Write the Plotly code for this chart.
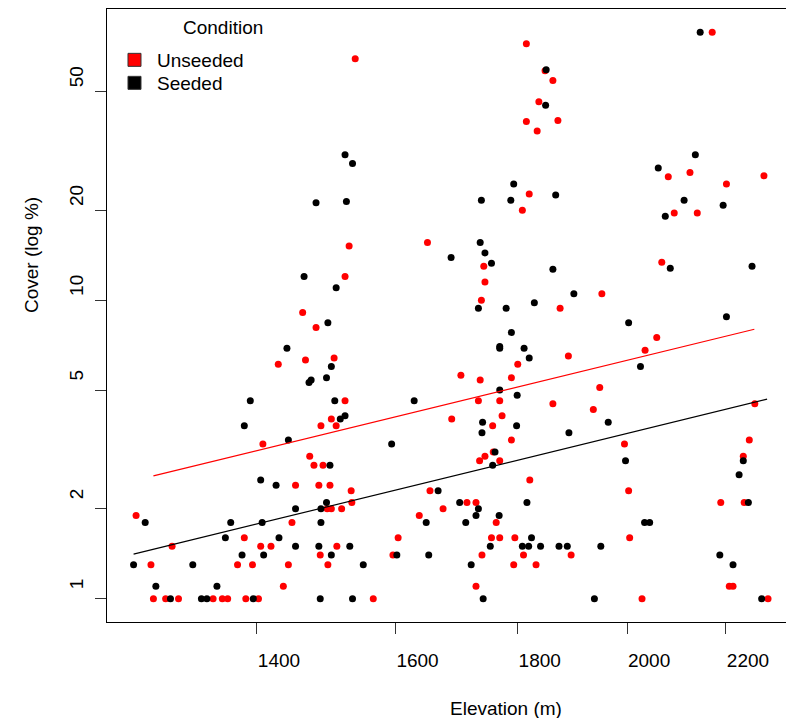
import plotly.graph_objects as go

# ---- data ----
unseeded_elev = [1246, 1290, 1264, 1267, 1282, 1298, 1342, 1354, 1361, 1385, 1402, 1374, 1394, 1443,
                 1499, 1436, 1383, 1405, 1419, 1512, 1488, 1448, 1498, 1504, 1519, 1408, 1473, 1479,
                 1492, 1453, 1486, 1502, 1533, 1534, 1489, 1511, 1504, 1524, 1429, 1467, 1508, 1482,
                 1463, 1524, 1530, 1539, 1566, 1604, 1596, 1637, 1654, 1675, 1689, 1704, 1650, 1714,
                 1729, 1729, 1739, 1755, 1769, 1763, 1793, 1832, 1795, 1810, 1895, 1735, 1744, 1758,
                 1769, 1821, 1789, 1757, 1773, 1733, 1769, 1862, 1736, 1789, 1800, 1890, 1875, 1738,
                 1744, 1742, 1808, 1820, 1815, 1834, 1837, 1871, 1862, 1848, 1815, 1952, 1948, 1936,
                 1995, 2003, 2005, 2029, 2035, 2058, 2068, 2081, 2093, 2125, 2140, 2171, 2201, 2282,
                 2189, 2239, 2237, 2250, 2262, 2207, 2215, 2291]
unseeded_cover = [1.9, 1.5, 1.3, 1.0, 1.0, 1.0, 1.0, 1.0, 1.0, 1.0, 1.0, 1.3, 1.3, 1.3,
                  1.3, 1.1, 1.6, 1.5, 1.5, 1.5, 1.4, 1.8, 2.0, 2.0, 2.0, 3.3, 3.0, 2.8,
                  2.8, 2.4, 2.4, 2.4, 2.3, 2.1, 3.8, 3.8, 4.0, 4.6, 6.1, 6.3, 6.4, 8.1,
                  9.1, 12.0, 15.2, 64.4, 1.0, 1.6, 1.4, 1.9, 2.3, 2.0, 4.0, 5.6, 15.6, 2.1,
                  2.1, 1.1, 1.4, 1.6, 1.6, 1.8, 1.3, 1.3, 1.6, 1.4, 1.4, 2.9, 3.0, 3.1,
                  2.9, 2.5, 3.4, 3.8, 4.1, 4.6, 4.6, 4.5, 5.4, 5.5, 6.1, 6.5, 9.4, 10.0,
                  11.5, 13.0, 20.0, 22.7, 39.7, 36.9, 46.2, 40.0, 54.4, 58.7, 72.3, 10.5, 5.1, 4.3,
                  3.3, 2.3, 1.6, 1.0, 6.8, 7.5, 13.4, 25.9, 19.6, 26.8, 19.6, 79.0, 24.5, 26.1,
                  2.1, 2.1, 3.0, 3.4, 4.5, 1.1, 1.1, 1.0]

seeded_elev = [1465, 1511, 1499, 1441, 1504, 1497, 1472, 1475, 1391, 1509, 1517, 1524, 1383, 1443,
               1502, 1405, 1426, 1497, 1489, 1453, 1257, 1365, 1407, 1489, 1358, 1430, 1453, 1486,
               1531, 1380, 1409, 1504, 1243, 1316, 1551, 1270, 1347, 1288, 1327, 1334, 1395, 1488,
               1535, 1524, 1535, 1482, 1526, 1738, 1788, 1793, 1867, 1850, 1849, 1736, 1744, 1755,
               1688, 1862, 1733, 1780, 1829, 1900, 1789, 1769, 1769, 1811, 1820, 1769, 1799, 1629,
               1740, 1739, 1798, 1891, 1594, 1761, 1757, 1667, 1702, 1733, 1816, 1729, 1768, 1648,
               1712, 1824, 1753, 1808, 1819, 1840, 1873, 1888, 1602, 1652, 1721, 1741, 2003, 2201,
               2026, 1964, 1997, 2237, 2228, 2248, 2034, 2044, 1950, 2187, 2215, 1938, 2277, 2146,
               2136, 2061, 2113, 2194, 2075, 2085, 2256]
seeded_cover = [12.0, 11.0, 8.4, 6.9, 6.0, 5.5, 5.3, 5.4, 4.6, 4.6, 4.0, 4.1, 3.8, 3.4,
                2.8, 2.5, 2.4, 2.1, 2.0, 2.0, 1.8, 1.8, 1.8, 1.8, 1.6, 1.6, 1.5, 1.5,
                1.5, 1.4, 1.4, 1.4, 1.3, 1.3, 1.3, 1.1, 1.1, 1.0, 1.0, 1.0, 1.0, 1.0,
                1.0, 30.7, 28.7, 21.2, 21.4, 21.6, 21.6, 24.5, 22.5, 59.2, 45.0, 15.6, 14.4, 13.3,
                13.9, 12.7, 9.4, 9.4, 9.8, 10.5, 7.8, 7.0, 6.9, 6.9, 6.4, 5.0, 4.8, 4.6,
                3.9, 3.6, 3.8, 3.6, 3.3, 3.1, 2.8, 2.3, 2.1, 2.0, 2.1, 1.9, 1.9, 1.8,
                1.8, 1.6, 1.5, 1.5, 1.5, 1.5, 1.5, 1.5, 1.4, 1.4, 1.3, 1.0, 8.4, 8.8,
                6.0, 3.9, 2.9, 2.9, 2.6, 2.1, 1.8, 1.8, 1.5, 1.4, 1.3, 1.0, 1.0, 79.0,
                30.7, 27.7, 21.6, 20.8, 19.1, 12.8, 13.0]

# fitted trend lines (end points)
trend_unseeded_elev = [1267, 2261]
trend_unseeded_cover = [2.58, 7.99]
trend_seeded_elev = [1243, 2289]
trend_seeded_cover = [1.41, 4.66]

x_ticks = [1400, 1600, 1800, 2000, 2200]
y_ticks = [1, 2, 5, 10, 20, 50]

RED = "#FF0000"
BLACK = "#000000"
FONT = "Liberation Sans, Arial, sans-serif"

fig = go.Figure()

fig.add_trace(go.Scatter(x=unseeded_elev, y=unseeded_cover, mode="markers",
                         marker=dict(color=RED, size=7, line=dict(width=0)),
                         showlegend=False, hoverinfo="x+y"))
fig.add_trace(go.Scatter(x=seeded_elev, y=seeded_cover, mode="markers",
                         marker=dict(color=BLACK, size=7, line=dict(width=0)),
                         showlegend=False, hoverinfo="x+y"))
fig.add_trace(go.Scatter(x=trend_unseeded_elev, y=trend_unseeded_cover, mode="lines",
                         line=dict(color=RED, width=1.2), showlegend=False, hoverinfo="skip"))
fig.add_trace(go.Scatter(x=trend_seeded_elev, y=trend_seeded_cover, mode="lines",
                         line=dict(color=BLACK, width=1.2), showlegend=False, hoverinfo="skip"))

# legend entries (one legend per entry so their spacing can match)
fig.add_trace(go.Scatter(x=[None], y=[None], mode="markers", name="Unseeded", legend="legend",
                         marker=dict(symbol="square", color=RED, size=13,
                                     line=dict(color="#333333", width=1))))
fig.add_trace(go.Scatter(x=[None], y=[None], mode="markers", name="Seeded", legend="legend2",
                         marker=dict(symbol="square", color=BLACK, size=13,
                                     line=dict(color="#333333", width=1))))

axis_common = dict(
    type="log", showgrid=False, zeroline=False,
    showline=True, mirror=True, linecolor="black", linewidth=1,
    ticks="outside", ticklen=11, tickwidth=1, tickcolor="#333333",
    tickfont=dict(family=FONT, size=19, color="black"),
)

legend_common = dict(xanchor="left", yanchor="middle", bgcolor="rgba(0,0,0,0)", borderwidth=0,
                     font=dict(family=FONT, size=19, color="black"),
                     itemsizing="trace", itemwidth=35)

# plot area: page x 107..791, y 9..622 (page has an 8px body margin)
fig.update_layout(
    width=786, height=710,
    margin=dict(l=99, r=3, t=1, b=96),
    paper_bgcolor="white", plot_bgcolor="white",
    font=dict(family=FONT, size=19, color="black"),
    xaxis=dict(axis_common, range=[3.08335, 3.36964],
               tickvals=x_ticks, ticktext=[str(v) for v in x_ticks],
               ticklabelshift=22, ticklabelstandoff=10),
    yaxis=dict(axis_common, range=[-0.07806, 1.97554],
               tickvals=y_ticks, ticktext=[str(v) for v in y_ticks],
               tickangle=-90, ticklabelshift=-12, ticklabelstandoff=4),
    legend=dict(legend_common, x=0.0073, y=(614 - 52) / 613),
    legend2=dict(legend_common, x=0.0073, y=(614 - 75) / 613),
    annotations=[
        dict(text="Condition", xref="paper", yref="paper",
             x=(223 - 107) / 684, y=(622 - 28) / 613,
             xanchor="center", yanchor="middle", showarrow=False,
             font=dict(family=FONT, size=19, color="black")),
        dict(text="Elevation (m)", xref="paper", yref="paper",
             x=(506 - 107) / 684, y=(622 - 708) / 613,
             xanchor="center", yanchor="middle", showarrow=False,
             font=dict(family=FONT, size=19, color="black")),
        dict(text="Cover (log %)", xref="paper", yref="paper",
             x=(31 - 107) / 684, y=(622 - 255) / 613, textangle=-90,
             xanchor="center", yanchor="middle", showarrow=False,
             font=dict(family=FONT, size=19, color="black")),
    ],
)

fig.write_html("out.html")
